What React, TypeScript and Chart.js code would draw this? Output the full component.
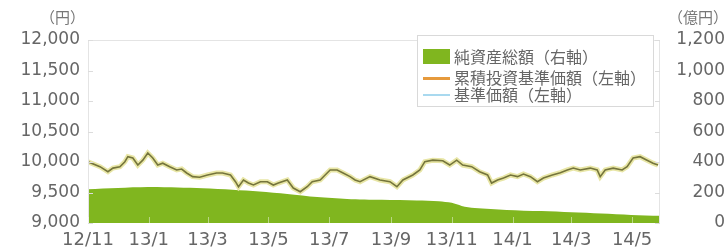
import { useEffect, useRef } from "react";
import { Chart, registerables } from "chart.js";

Chart.register(...registerables);

// x positions are days since 2012-11-01
const tickDays = [0, 61, 120, 181, 242, 304, 365, 426, 485, 546];
const tickLabels = ["12/11", "13/1", "13/3", "13/5", "13/7", "13/9", "13/11", "14/1", "14/3", "14/5"];

// 基準価額 / 累積投資基準価額 (円, left axis)
const navDays = [
  0, 12, 20, 25, 32, 37, 40, 45, 50, 55, 60, 65, 70, 75, 82, 89, 94, 99, 105, 112,
  120, 129, 135, 143, 148, 151, 156, 161, 166, 173, 180, 186, 191, 200, 206, 213, 220, 225, 233, 238,
  243, 250, 256, 263, 268, 273, 283, 293, 303, 310, 316, 326, 333, 338, 346, 356, 363, 370, 376, 385,
  393, 401, 405, 411, 417, 424, 431, 437, 444, 451, 457, 466, 474, 481, 487, 494, 504, 511, 514, 519,
  527, 536, 541, 547, 554, 561, 567, 572,
];
const navValues = [
  10003, 9923, 9840, 9900, 9923, 10005, 10087, 10065, 9950, 10030, 10147, 10065, 9950, 9980, 9923, 9870, 9885, 9820, 9760, 9750,
  9787, 9820, 9820, 9787, 9677, 9595, 9705, 9655, 9623, 9677, 9677, 9623, 9655, 9705, 9573, 9513, 9595, 9677, 9705, 9787,
  9870, 9870, 9820, 9760, 9705, 9677, 9760, 9705, 9677, 9595, 9705, 9787, 9870, 10005, 10030, 10020, 9950, 10030, 9950, 9923,
  9840, 9787, 9655, 9705, 9737, 9787, 9760, 9803, 9760, 9677, 9737, 9787, 9825, 9870, 9900, 9870, 9900, 9870, 9760, 9870,
  9900, 9870, 9923, 10065, 10087, 10030, 9980, 9950,
];

// 純資産総額 (億円, right axis)
const assetDays = [0, 30, 60, 90, 115, 145, 172, 200, 230, 260, 295, 330, 352, 365, 375, 388, 420, 455, 485, 515, 545, 574];
const assetValues = [222, 230, 236, 233, 228, 218, 206, 190, 170, 158, 152, 148, 143, 132, 112, 98, 86, 78, 70, 62, 53, 47];

const leftTickValues = [9000, 9500, 10000, 10500, 11000, 11500, 12000];
const rightTickValues = [0, 200, 400, 600, 800, 1000, 1200];

const legendLabels = ["純資産総額（右軸）", "累積投資基準価額（左軸）", "基準価額（左軸）"];
const leftUnit = "（円）";
const rightUnit = "（億円）";

const GREEN = "#80b61f";
const ORANGE = "#e69a3c";
const BLUE = "#a9d9ef";
const TEXT = "#666666";
const CJK = '"Noto Sans CJK JP", sans-serif';

const decorPlugin = {
  id: "decor",
  afterDatasetsDraw(chart: any) {
    const { ctx, chartArea, scales } = chart;
    const { left, right, top, bottom } = chartArea;
    ctx.save();
    // frame
    ctx.strokeStyle = "#e4e4e4";
    ctx.lineWidth = 1;
    ctx.beginPath();
    ctx.moveTo(left + 0.5, bottom);
    ctx.lineTo(left + 0.5, top + 0.5);
    ctx.lineTo(right - 0.5, top + 0.5);
    ctx.lineTo(right - 0.5, bottom);
    ctx.stroke();
    // inward ticks
    ctx.strokeStyle = "#dcdcdc";
    leftTickValues.forEach((v) => {
      const y = Math.round(scales.y.getPixelForValue(v)) + 0.5;
      ctx.beginPath();
      ctx.moveTo(left, y);
      ctx.lineTo(left + 5, y);
      ctx.stroke();
    });
    rightTickValues.forEach((v) => {
      const y = Math.round(scales.y1.getPixelForValue(v)) + 0.5;
      ctx.beginPath();
      ctx.moveTo(right - 5, y);
      ctx.lineTo(right, y);
      ctx.stroke();
    });
    ctx.strokeStyle = "rgba(255,255,255,0.45)";
    tickDays.forEach((d) => {
      const x = Math.round(scales.x.getPixelForValue(d)) + 0.5;
      ctx.beginPath();
      ctx.moveTo(x, bottom);
      ctx.lineTo(x, bottom - 6);
      ctx.stroke();
    });
    ctx.restore();
  },
  afterDraw(chart: any) {
    const { ctx } = chart;
    ctx.save();
    // unit labels
    ctx.fillStyle = "#777";
    ctx.font = `15px ${CJK}`;
    ctx.textBaseline = "middle";
    ctx.textAlign = "left";
    ctx.fillText(leftUnit, 40, 17);
    ctx.fillText(rightUnit, 668, 17);
    // legend box
    ctx.fillStyle = "#ffffff";
    ctx.fillRect(417, 35, 236, 71);
    ctx.strokeStyle = "#d9d9d9";
    ctx.lineWidth = 1;
    ctx.strokeRect(417.5, 35.5, 236, 71);
    ctx.fillStyle = GREEN;
    ctx.fillRect(423, 49, 27, 15);
    ctx.fillStyle = ORANGE;
    ctx.fillRect(423, 77, 27, 3);
    ctx.fillStyle = BLUE;
    ctx.fillRect(423, 94, 27, 2);
    ctx.fillStyle = TEXT;
    ctx.font = `16px ${CJK}`;
    ctx.fillText(legendLabels[0], 454, 57);
    ctx.fillText(legendLabels[1], 454, 78);
    ctx.fillText(legendLabels[2], 454, 95);
    ctx.restore();
  },
};

export default function App() {
  const ref = useRef<HTMLCanvasElement | null>(null);

  useEffect(() => {
    if (!ref.current) return;
    const navData = navDays.map((d, i) => ({ x: d, y: navValues[i] }));
    const assetData = assetDays.map((d, i) => ({ x: d, y: assetValues[i] }));
    const numFont = { family: '"DejaVu Sans", sans-serif', size: 17 };
    const chart = new Chart(ref.current, {
      type: "line",
      data: {
        datasets: [
          {
            label: legendLabels[2],
            data: navData,
            yAxisID: "y",
            borderColor: "#75753c",
            borderWidth: 1.6,
            pointRadius: 0,
            tension: 0,
            order: 1,
          },
          {
            label: legendLabels[1],
            data: navData,
            yAxisID: "y",
            borderColor: "#e8e6a6",
            borderWidth: 5,
            pointRadius: 0,
            tension: 0,
            order: 2,
          },
          {
            label: legendLabels[0],
            data: assetData,
            yAxisID: "y1",
            borderWidth: 0,
            borderColor: GREEN,
            backgroundColor: GREEN,
            fill: "origin",
            pointRadius: 0,
            tension: 0.3,
            order: 3,
          },
        ],
      },
      options: {
        animation: false,
        responsive: true,
        maintainAspectRatio: false,
        layout: { padding: { top: 40, left: 0, right: 0, bottom: 0 } },
        plugins: { legend: { display: false }, tooltip: { enabled: false } },
        scales: {
          x: {
            type: "linear",
            min: 0,
            max: 574,
            grid: { display: false, drawTicks: false },
            border: { display: false },
            afterBuildTicks: (axis: any) => {
              axis.ticks = tickDays.map((v) => ({ value: v }));
            },
            afterFit: (axis: any) => {
              axis.height = 29;
            },
            ticks: {
              autoSkip: false,
              maxRotation: 0,
              padding: 7,
              color: TEXT,
              font: { family: '"DejaVu Sans", sans-serif', size: 18 },
              callback: (v: any) => {
                const i = tickDays.indexOf(Number(v));
                return i >= 0 ? tickLabels[i] : "";
              },
            },
          },
          y: {
            position: "left",
            min: 9000,
            max: 12000,
            grid: { display: false, drawTicks: false },
            border: { display: false },
            afterBuildTicks: (axis: any) => {
              axis.ticks = leftTickValues.map((v) => ({ value: v }));
            },
            afterFit: (axis: any) => {
              axis.width = 88;
            },
            ticks: {
              padding: 8,
              color: TEXT,
              font: numFont,
              callback: (v: any) => Number(v).toLocaleString("en-US"),
            },
          },
          y1: {
            position: "right",
            min: 0,
            max: 1200,
            grid: { display: false, drawTicks: false },
            border: { display: false },
            afterBuildTicks: (axis: any) => {
              axis.ticks = rightTickValues.map((v) => ({ value: v }));
            },
            afterFit: (axis: any) => {
              axis.width = 65;
            },
            ticks: {
              padding: 5,
              crossAlign: "far",
              color: TEXT,
              font: numFont,
              callback: (v: any) => Number(v).toLocaleString("en-US"),
            },
          },
        },
      },
      plugins: [decorPlugin],
    } as any);
    return () => chart.destroy();
  }, []);

  return (
    <div style={{ position: "absolute", left: 0, top: 0, width: 725, height: 252, background: "#fff" }}>
      <canvas ref={ref} />
    </div>
  );
}
